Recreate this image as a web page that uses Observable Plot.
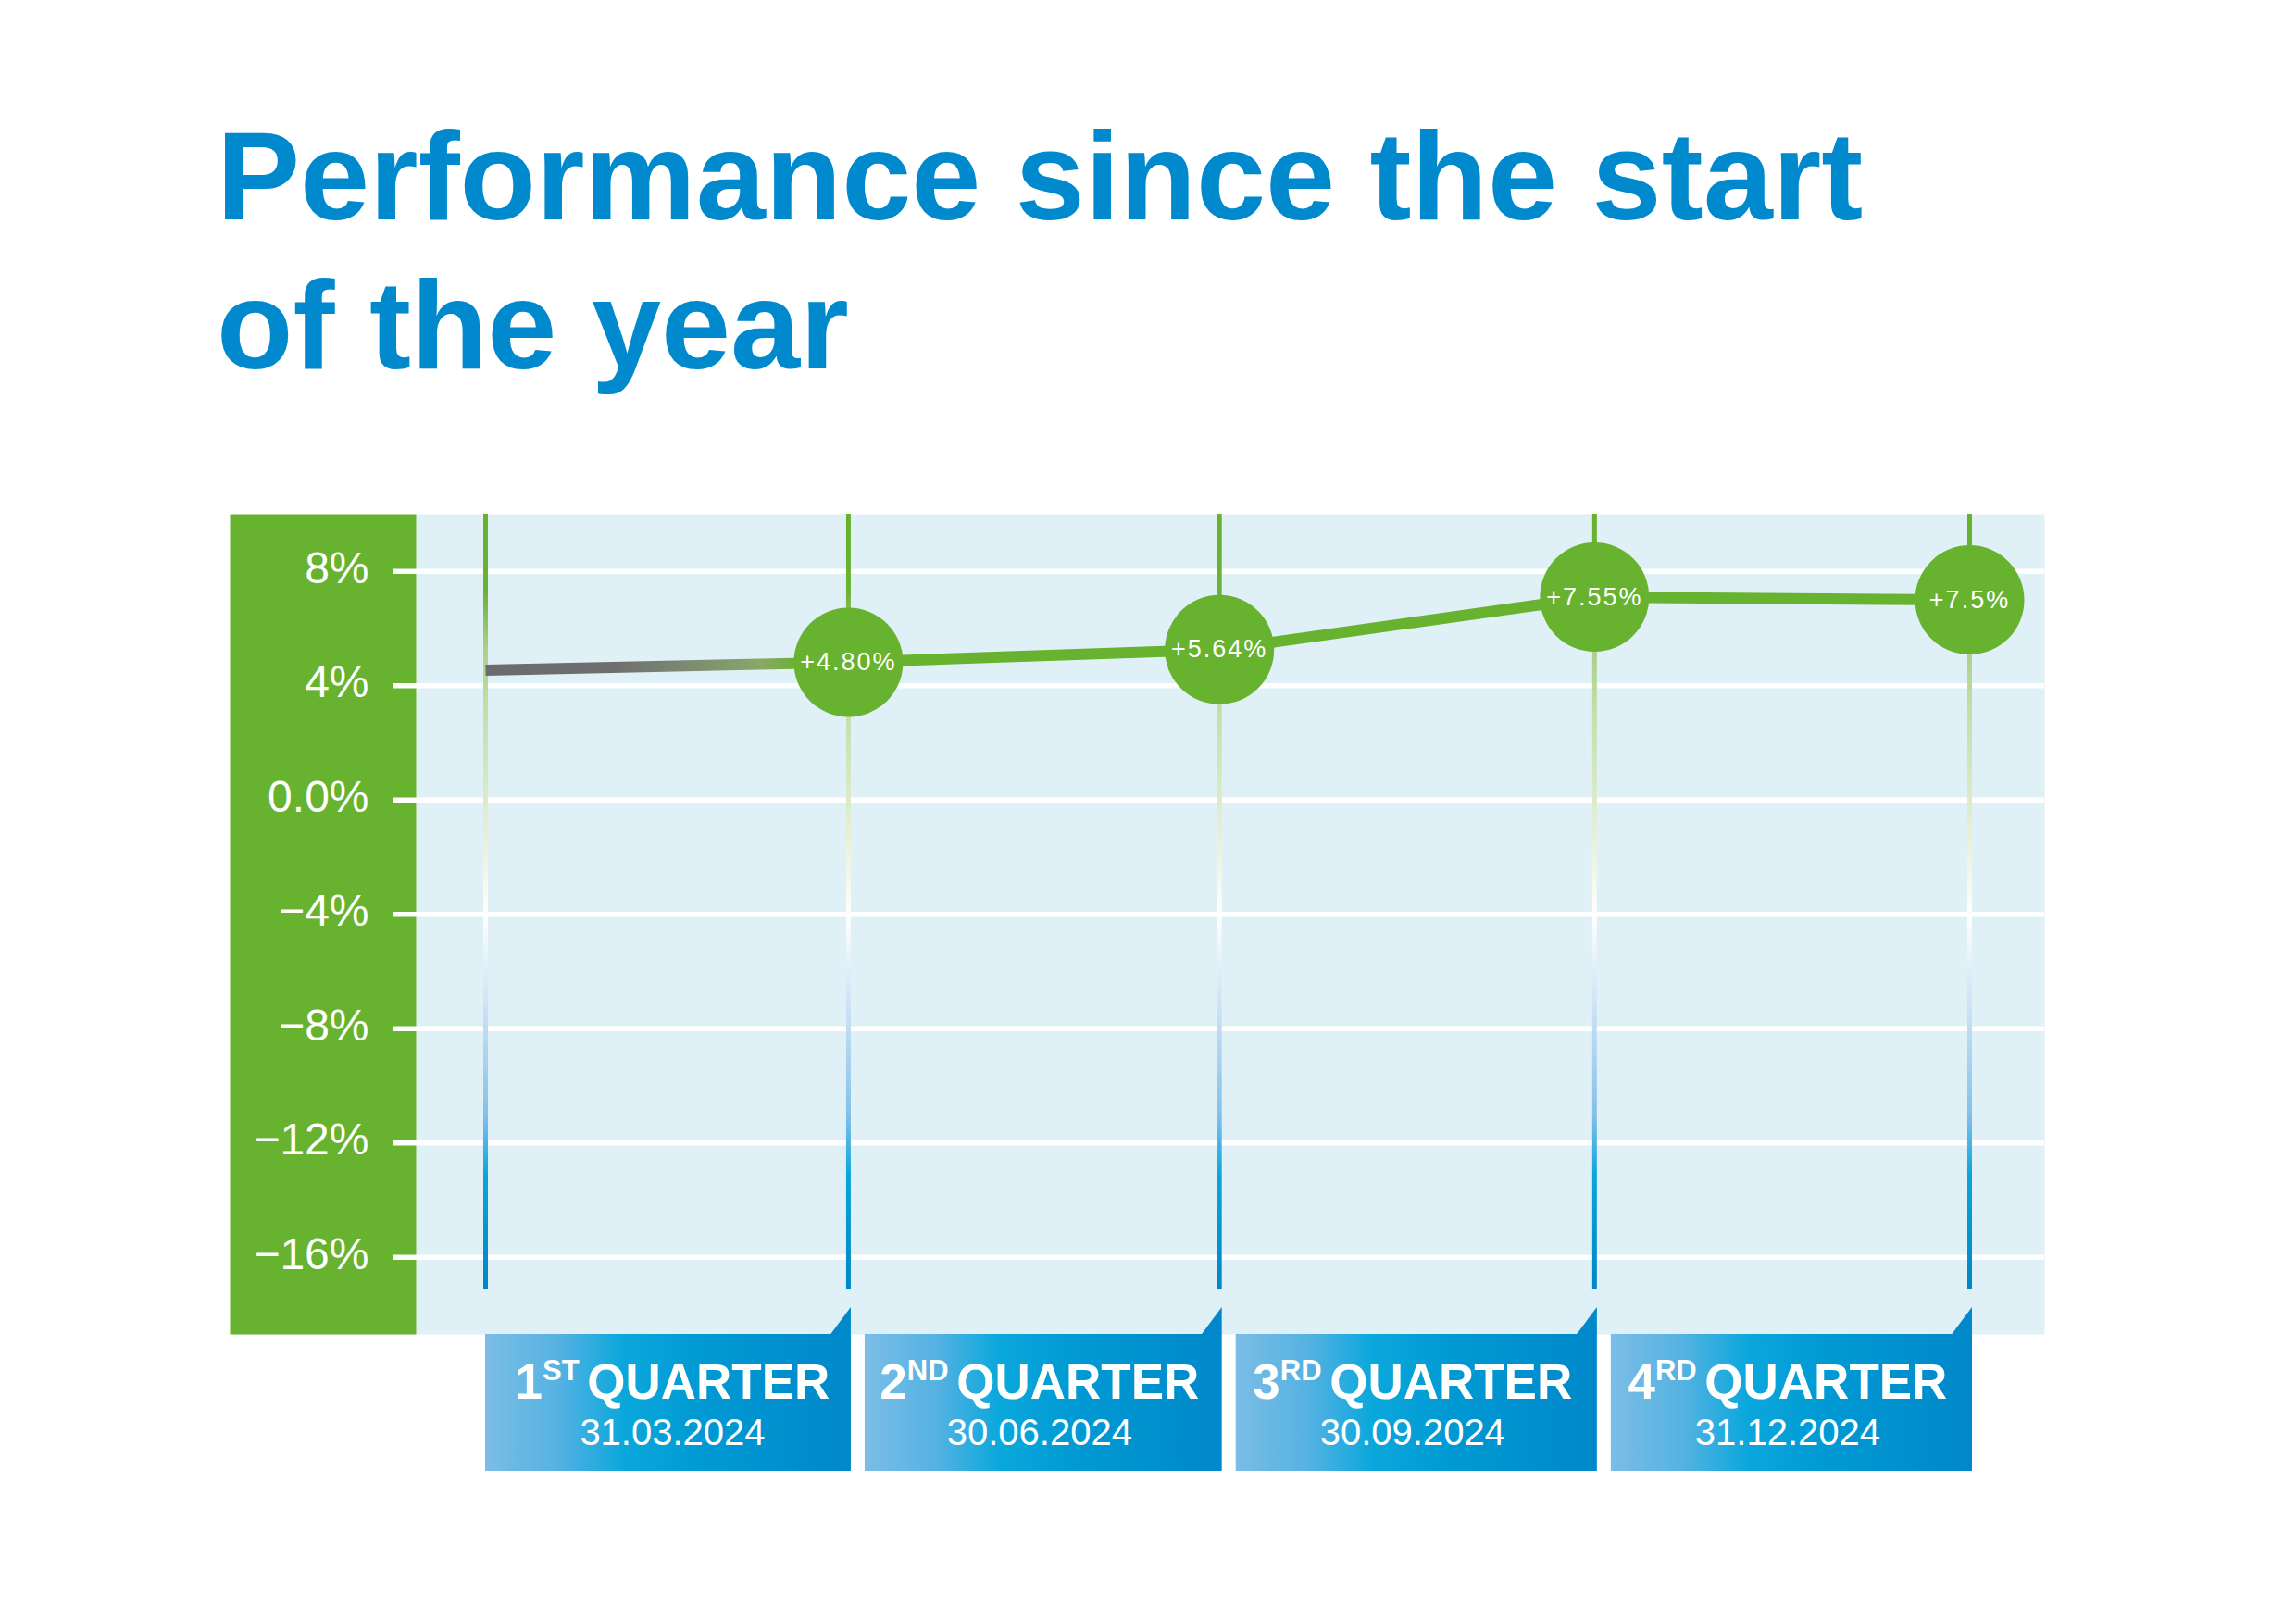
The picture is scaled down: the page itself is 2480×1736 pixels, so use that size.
<!DOCTYPE html>
<html><head><meta charset="utf-8">
<script src="https://cdn.jsdelivr.net/npm/d3@7"></script>
<script src="https://cdn.jsdelivr.net/npm/@observablehq/plot@0.6"></script>
<style>
html,body{margin:0;padding:0;background:#fff;}
#page{position:relative;width:2480px;height:1736px;overflow:hidden;background:#fff;font-family:"Liberation Sans",Arial,sans-serif;}
#title{position:absolute;left:234px;top:110px;margin:0;font-size:135px;line-height:161px;font-weight:bold;color:#0089cd;white-space:nowrap;}
#chart{position:absolute;left:0;top:480px;width:2480px;height:1256px;}
</style></head><body>
<div id="page">
<h1 id="title">Performance since the start<br>of the year</h1>
<div id="chart"></div>
</div>
<script>
// ---- data ----
const dates = ["2024-01-02", "2024-03-31", "2024-06-30", "2024-09-30", "2024-12-31"];
const performance = [4.54, 4.82, 5.26, 7.1, 7.0];
const pointLabels = ["", "+4.80%", "+5.64%", "+7.55%", "+7.5%"];
const quarterNumbers = ["1", "2", "3", "4"];
const quarterSuffixes = ["ST", "ND", "RD", "RD"];
const quarterWord = "QUARTER";
const quarterDates = ["31.03.2024", "30.06.2024", "30.09.2024", "31.12.2024"];
const yTicks = [8, 4, 0, -4, -8, -12, -16];
const yTickLabels = ["8%", "4%", "0.0%", "\u22124%", "\u22128%", "\u221212%", "\u221216%"];

// ---- layout ----
const W = 2480, H = 1256, mt = 75, mb = 295, ml = 449, mr = 272;
const frameW = W - ml - mr, frameH = H - mt - mb;
const green = "#67b22f";

const parse = d3.utcParse("%Y-%m-%d");
const series = dates.map((d, i) => ({date: parse(d), value: performance[i], label: pointLabels[i]}));
const quarters = series.slice(1);
const badges = quarterNumbers.map((n, i) => ({
  start: series[i].date, end: series[i + 1].date,
  num: n, sup: quarterSuffixes[i], date: quarterDates[i], first: i === 0
}));
const mid = d => new Date((+d.start + +d.end) / 2);

const plot = Plot.plot({
  width: W, height: H,
  marginTop: mt, marginBottom: mb, marginLeft: ml, marginRight: mr,
  style: {background: "transparent", fontFamily: "Liberation Sans, Arial, sans-serif", overflow: "visible", maxWidth: "none"},
  x: {type: "utc", domain: [series[0].date, series[series.length - 1].date], range: [524, 2127], axis: null},
  y: {domain: [-18.7, 10], axis: null},
  marks: [
    Plot.frame({fill: "#e0f0f7", stroke: null}),
    Plot.frame({fill: green, stroke: null, insetLeft: -201, insetRight: frameW}),
    Plot.ruleY(yTicks, {y: d => d, stroke: "#ffffff", strokeWidth: 5.5, insetLeft: -24}),
    Plot.text(yTicks, {y: d => d, text: (d, i) => yTickLabels[i], frameAnchor: "left", textAnchor: "end", dx: -51, dy: -3, fill: "#ffffff", fontSize: 48}),
    Plot.ruleX(series, {x: "date", stroke: "url(#vgrad)", strokeWidth: 5, insetBottom: 48}),
    Plot.line(series, {x: "date", y: "value", stroke: "url(#lgrad)", strokeWidth: 12, strokeLinecap: "butt", strokeLinejoin: "round"}),
    Plot.dot(quarters, {x: "date", y: "value", r: 59, fill: green, stroke: null}),
    Plot.text(quarters, {x: "date", y: "value", text: "label", fill: "#fffffe", fontSize: 27}),
    Plot.rect(badges.filter(d => d.first), {x1: "start", x2: "end", fill: "url(#bgrad)", insetTop: frameH, insetBottom: -148, insetRight: -3}),
    Plot.rect(badges.filter(d => !d.first), {x1: "start", x2: "end", fill: "url(#bgrad)", insetTop: frameH, insetBottom: -148, insetLeft: 18, insetRight: -3}),
    Plot.text(badges, {x: mid, text: d => d.num + d.sup + " " + quarterWord, frameAnchor: "bottom", lineAnchor: "bottom", dy: 69, dx: 6, fill: "#fffffd", fontSize: 53, fontWeight: "bold"}),
    Plot.text(badges, {x: mid, text: "date", frameAnchor: "bottom", lineAnchor: "bottom", dy: 119, dx: 6, fill: "#ffffff", fontSize: 40})
  ]
});

// ---- gradients ----
const svg = d3.select(plot.tagName.toLowerCase() === "svg" ? plot : plot.querySelector("svg"));
const xs = plot.scale("x");
const defs = svg.insert("defs", ":first-child");
function grad(id, attrs, stops) {
  const g = defs.append("linearGradient").attr("id", id);
  for (const k in attrs) g.attr(k, attrs[k]);
  stops.forEach(([o, c]) => g.append("stop").attr("offset", o).attr("stop-color", c));
}
grad("vgrad", {gradientUnits: "userSpaceOnUse", x1: 0, x2: 0, y1: mt, y2: H - mb - 48}, [
  [0, "#66b22e"], [0.10, "#6ab234"], [0.17, "#a9cf86"], [0.245, "#c2dda6"],
  [0.414, "#e6f0d6"], [0.518, "#ffffff"], [0.647, "#c8e0f4"], [0.776, "#82c0e8"],
  [0.853, "#0aa5dd"], [1, "#0086c6"]
]);
const lx1 = xs.apply(series[0].date), lx2 = xs.apply(series[series.length - 1].date);
grad("lgrad", {gradientUnits: "userSpaceOnUse", x1: lx1, x2: lx2, y1: 0, y2: 0}, [
  [0, "#6b6b6b"], [0.085, "#6e6e6e"], [0.135, "#7c8a72"], [0.185, "#88a868"], [0.21, "#6cb134"], [0.24, green], [1, green]
]);
grad("bgrad", {x1: 0, x2: 1, y1: 0, y2: 0}, [
  [0, "#7bbde6"], [0.2, "#55b2e2"], [0.38, "#0aa7dc"], [0.6, "#0099d3"], [1, "#0088ca"]
]);

// ---- badge pointers ----
svg.selectAll("rect").filter(function() {
  return (this.getAttribute("fill") || this.parentNode.getAttribute("fill")) === "url(#bgrad)";
}).each(function() {
  const r = d3.select(this);
  const x = +r.attr("x"), y = +r.attr("y"), w = +r.attr("width");
  const right = x + w;
  d3.select(this.parentNode).append("polygon")
    .attr("points", `${right - 22},${y + 0.5} ${right},${y - 29} ${right},${y + 0.5}`)
    .attr("fill", "#0088ca");
});

// ---- point label letter spacing ----
svg.selectAll("text").filter(function() { return pointLabels.includes(this.textContent) && this.textContent; })
  .style("letter-spacing", "2px");

// ---- superscript ordinals in badge titles ----
svg.selectAll("text").filter(function() { return this.textContent.endsWith(" " + quarterWord); })
  .each(function(_, k) {
    const dat = d3.select(this).datum();
    const i = typeof dat === "number" ? dat : k;
    const b = badges[i];
    const t = d3.select(this);
    t.text(null);
    t.append("tspan").text(b.num);
    t.append("tspan").attr("font-size", 31).attr("dy", -20).text(b.sup + " ");
    t.append("tspan").attr("dy", 20).text(quarterWord);
  });

document.getElementById("chart").appendChild(plot);
</script>
</body></html>
